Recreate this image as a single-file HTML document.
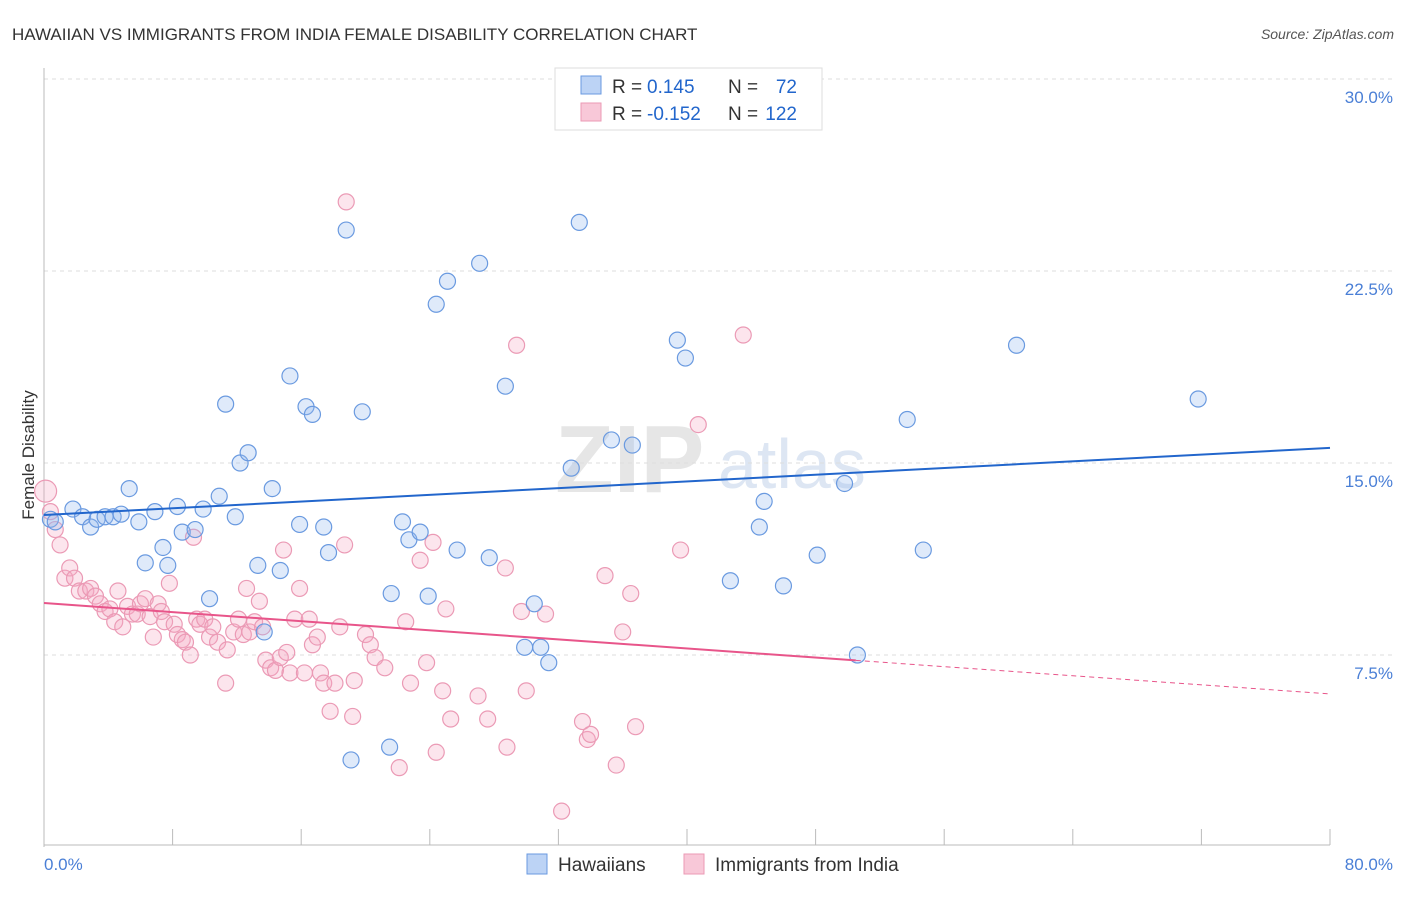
<!DOCTYPE html>
<html><head><meta charset="utf-8"><style>
body{margin:0;background:#fff;font-family:"Liberation Sans",sans-serif}
svg text{font-family:"Liberation Sans",sans-serif}
</style></head><body>
<svg id="c" width="1406" height="892"></svg>
<script>
const blueX=[0.4,0.7,1.8,2.4,2.9,3.3,3.8,4.3,4.8,5.3,5.9,6.3,6.9,7.4,7.7,8.3,8.6,9.4,9.9,10.3,10.9,11.3,11.9,12.2,12.7,13.3,13.7,14.2,14.7,15.3,15.9,16.3,16.7,17.4,17.7,18.8,19.1,19.8,21.5,21.6,22.3,22.7,23.4,23.9,24.4,25.1,25.7,27.1,27.7,28.7,29.9,30.5,30.9,31.4,32.8,33.3,35.3,36.6,39.4,39.9,42.7,44.5,44.8,46.0,48.1,49.8,50.6,53.7,54.7,60.5,71.8];
const blueY=[12.8,12.7,13.2,12.9,12.5,12.8,12.9,12.9,13.0,14.0,12.7,11.1,13.1,11.7,11.0,13.3,12.3,12.4,13.2,9.7,13.7,17.3,12.9,15.0,15.4,11.0,8.4,14.0,10.8,18.4,12.6,17.2,16.9,12.5,11.5,24.1,3.4,17.0,3.9,9.9,12.7,12.0,12.3,9.8,21.2,22.1,11.6,22.8,11.3,18.0,7.8,9.5,7.8,7.2,14.8,24.4,15.9,15.7,19.8,19.1,10.4,12.5,13.5,10.2,11.4,14.2,7.5,16.7,11.6,19.6,17.5];
const pinkX=[0.1,0.4,0.7,1.0,1.3,1.6,1.9,2.2,2.6,2.9,3.2,3.5,3.8,4.1,4.4,4.6,4.9,5.2,5.5,5.8,6.0,6.3,6.6,6.8,7.1,7.3,7.5,7.8,8.1,8.3,8.6,8.8,9.1,9.3,9.5,9.7,10.0,10.3,10.5,10.8,11.3,11.4,11.8,12.1,12.4,12.6,12.8,13.1,13.4,13.6,13.8,14.1,14.4,14.7,14.9,15.1,15.3,15.6,15.9,16.2,16.5,16.7,17.0,17.2,17.4,17.8,18.1,18.4,18.7,18.8,19.2,19.3,20.0,20.3,20.6,21.2,22.1,22.5,22.8,23.4,23.8,24.2,24.4,24.8,25.0,25.3,27.0,27.6,28.7,28.8,29.4,29.7,30.0,31.2,33.5,33.8,34.0,34.9,35.6,36.0,36.5,36.8,39.6,40.7,43.5,32.2];
const pinkY=[13.9,13.1,12.4,11.8,10.5,10.9,10.5,10.0,10.0,10.1,9.8,9.5,9.2,9.3,8.8,10.0,8.6,9.4,9.1,9.1,9.5,9.7,9.0,8.2,9.5,9.2,8.8,10.3,8.7,8.3,8.1,8.0,7.5,12.1,8.9,8.7,8.9,8.2,8.6,8.0,6.4,7.7,8.4,8.9,8.3,10.1,8.4,8.8,9.6,8.6,7.3,7.0,6.9,7.4,11.6,7.6,6.8,8.9,10.1,6.8,8.9,7.9,8.2,6.8,6.4,5.3,6.4,8.6,11.8,25.2,5.1,6.5,8.3,7.9,7.4,7.0,3.1,8.8,6.4,11.2,7.2,11.9,3.7,6.1,9.3,5.0,5.9,5.0,10.9,3.9,19.6,9.2,6.1,9.1,4.9,4.2,4.4,10.6,3.2,8.4,9.9,4.7,11.6,16.5,20.0,1.4];
const blueLine=[12.97,15.59];
const pinkLine=[9.53,5.98];
const pinkSolidEnd=50.5;
const yTicks=[7.5,15.0,22.5,30.0];
const xTicks=[0,8,16,24,32,40,48,56,64,72,80];

const X=v=>44+v*16.075, Y=v=>847-v*25.6;
const s=document.getElementById('c'),NS='http://www.w3.org/2000/svg';
function el(t,a,p,txt){const e=document.createElementNS(NS,t);for(const k in a)e.setAttribute(k,a[k]);if(txt!=null)e.textContent=txt;(p||s).appendChild(e);return e;}
let t=el('text',{x:12,y:40,'font-size':17,fill:'#333'},null,'HAWAIIAN VS IMMIGRANTS FROM INDIA FEMALE DISABILITY CORRELATION CHART');

t=el('text',{x:1394,y:39,'font-size':14,fill:'#555','text-anchor':'end','font-style':'italic'},null,'Source: ZipAtlas.com');

t=el('text',{x:555,y:492,'font-size':96,fill:'#e6e6e6','font-weight':'bold','font-family':'Liberation Serif'},null,'ZIP');

t=el('text',{x:718,y:488,'font-size':70,fill:'#dde6f3'},null,'atlas');

yTicks.forEach(v=>{let l=el('line',{x1:44,x2:1394,y1:Y(v),y2:Y(v),stroke:'#ddd','stroke-dasharray':'4,4'});

let tx=el('text',{x:1393,y:Y(v)+24,'font-size':17,fill:'#4a7fd6','text-anchor':'end'},null,v.toFixed(1)+'%');
});
let a=el('line',{x1:44,x2:44,y1:68,y2:847,stroke:'#bbb'});
a=el('line',{x1:44,x2:1330,y1:845,y2:845,stroke:'#bbb'});
xTicks.forEach(v=>{let l=el('line',{x1:X(v),x2:X(v),y1:829,y2:845,stroke:'#bbb'});});
t=el('text',{x:44,y:870,'font-size':17,fill:'#4a7fd6'},null,'0.0%');
t=el('text',{x:1393,y:870,'font-size':17,fill:'#4a7fd6','text-anchor':'end'},null,'80.0%');
t=el('text',{x:34,y:455,'font-size':17,fill:'#333','text-anchor':'middle',transform:'rotate(-90 34 455)'},null,'Female Disability');
pinkX.forEach((v,i)=>{let c=el('circle',{cx:X(v),cy:Y(pinkY[i]),r:i==0?11:8,fill:'rgba(245,170,195,0.3)',stroke:'#eb9ab5','stroke-width':1.2});
});
blueX.forEach((v,i)=>{let c=el('circle',{cx:X(v),cy:Y(blueY[i]),r:8,fill:'rgba(150,185,240,0.3)',stroke:'#6a9ae0','stroke-width':1.2});
});
let bl=el('line',{x1:X(0),y1:Y(blueLine[0]),x2:X(80),y2:Y(blueLine[1]),stroke:'#2266cc','stroke-width':2});

const pv=x=>pinkLine[0]+(pinkLine[1]-pinkLine[0])*x/80;
let pl=el('line',{x1:X(0),y1:Y(pv(0)),x2:X(pinkSolidEnd),y2:Y(pv(pinkSolidEnd)),stroke:'#e8558a','stroke-width':2});

pl=el('line',{x1:X(pinkSolidEnd),y1:Y(pv(pinkSolidEnd)),x2:X(80),y2:Y(pv(80)),stroke:'#e8558a','stroke-width':1,'stroke-dasharray':'5,4'});

let g=el('g',{});
el('rect',{x:555,y:68,width:267,height:62,fill:'#fff',stroke:'#ddd'},g);
el('rect',{x:581,y:76,width:20,height:18,fill:'#bcd3f5',stroke:'#6a9ae0'},g);
el('rect',{x:581,y:103,width:20,height:18,fill:'#f8c8d8',stroke:'#eb9ab5'},g);
[['R = ',' 0.145','N = ','72',93],['R = ','-0.152','N = ','122',120]].forEach(r=>{
el('text',{x:612,y:r[4],'font-size':19,fill:'#333'},g,r[0]);
el('text',{x:647,y:r[4],'font-size':19,fill:'#2266cc'},g,r[1]);
el('text',{x:728,y:r[4],'font-size':19,fill:'#333'},g,r[2]);
el('text',{x:797,y:r[4],'font-size':19,fill:'#2266cc','text-anchor':'end'},g,r[3]);});
let lg=el('g',{});
el('rect',{x:527,y:854,width:20,height:20,fill:'#bcd3f5',stroke:'#6a9ae0'},lg);
el('text',{x:558,y:871,'font-size':19,fill:'#333'},lg,'Hawaiians');
el('rect',{x:684,y:854,width:20,height:20,fill:'#f8c8d8',stroke:'#eb9ab5'},lg);
el('text',{x:715,y:871,'font-size':19,fill:'#333'},lg,'Immigrants from India');
</script></body></html>
